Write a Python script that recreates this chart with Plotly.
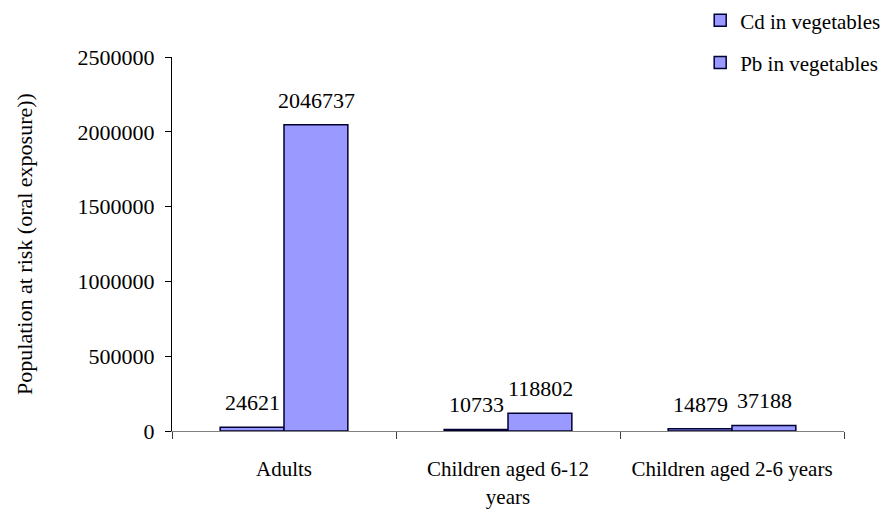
import plotly.graph_objects as go

# Population at risk from oral exposure to heavy metals in vegetables
groups = ["Adults", "Children aged 6-12<br>years", "Children aged 2-6 years"]
cd_values = [24621, 10733, 14879]
pb_values = [2046737, 118802, 37188]
series_names = ["Cd in vegetables", "Pb in vegetables"]

bar_fill = "#9999FF"
bar_line = "#000033"
font_family = "Liberation Serif"

fig = go.Figure()
for name, vals in zip(series_names, [cd_values, pb_values]):
    fig.add_trace(go.Bar(
        x=groups, y=vals, name=name,
        marker=dict(color=bar_fill, line=dict(color=bar_line, width=1.5)),
        legendgroup=name,
    ))

# value labels above each bar
bar_px = 64
for k, vals in enumerate([cd_values, pb_values]):
    shift = (-0.5 if k == 0 else 0.5) * bar_px
    for g, v in zip(groups, vals):
        fig.add_annotation(
            x=g, y=v, text=str(v), showarrow=False,
            xshift=shift, yshift=10, yanchor="bottom",
            font=dict(family=font_family, size=22, color="black"),
        )

fig.update_layout(
    width=883, height=514,
    margin=dict(l=172, r=39, t=57, b=83, autoexpand=False),
    paper_bgcolor="white", plot_bgcolor="white",
    font=dict(family=font_family, size=21, color="black"),
    barmode="group", bargap=0.43, bargroupgap=0,
    showlegend=True,
    legend=dict(
        x=0.786, y=1.152, xanchor="left", yanchor="top",
        traceorder="grouped", tracegroupgap=12,
        font=dict(family=font_family, size=21, color="black"),
        bgcolor="rgba(0,0,0,0)", itemwidth=30,
    ),
)
fig.update_xaxes(
    showline=True, linecolor="#808080", linewidth=1,
    ticks="outside", tickson="boundaries", ticklen=7, tickcolor="#404040",
    showgrid=False, ticklabelstandoff=19,
    tickfont=dict(family=font_family, size=21),
)
fig.update_yaxes(
    range=[0, 2500000], dtick=500000, tickformat="d",
    showline=True, linecolor="black", linewidth=1,
    ticks="outside", ticklen=6, tickcolor="black",
    showgrid=False, zeroline=False, ticklabelstandoff=6,
    tickfont=dict(family=font_family, size=22),
    title=dict(text="Population at risk (oral exposure))",
               font=dict(family=font_family, size=22), standoff=38),
)

fig.write_html("out.html")
